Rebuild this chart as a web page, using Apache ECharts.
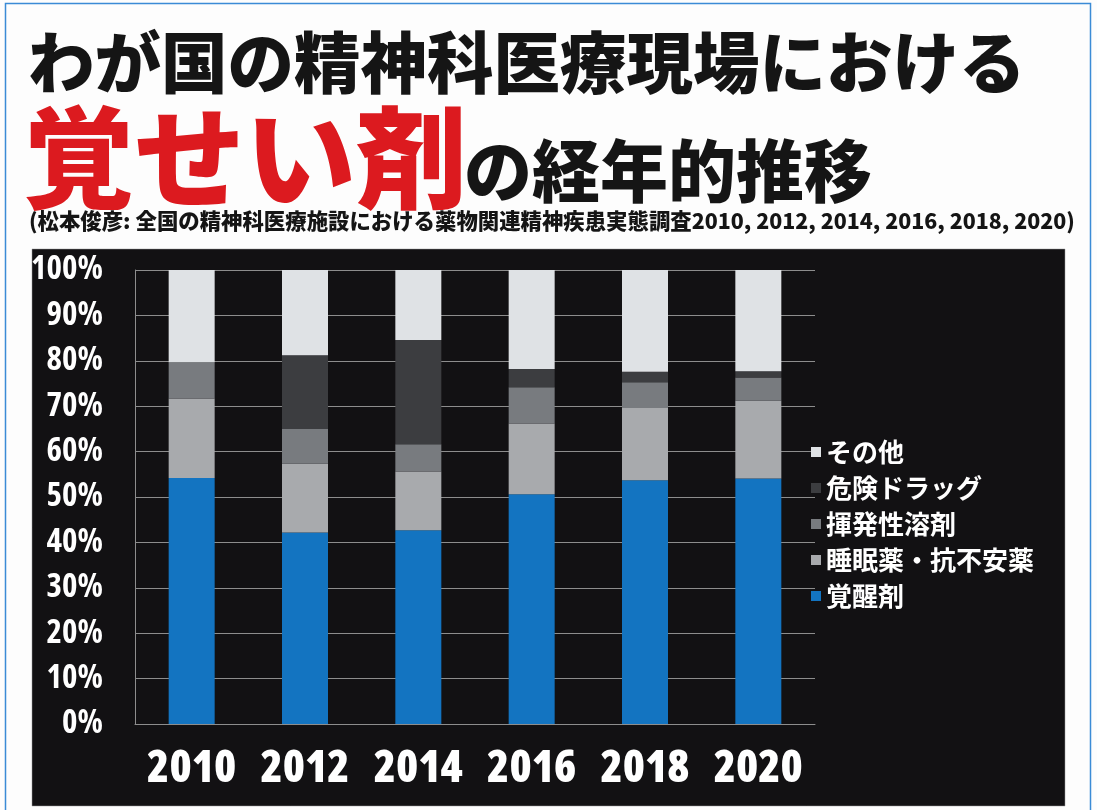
<!DOCTYPE html>
<html lang="ja">
<head>
<meta charset="utf-8">
<title>覚せい剤の経年的推移</title>
<script src="https://cdn.jsdelivr.net/npm/echarts@6/dist/echarts.min.js"></script>
<style>
  html, body { margin: 0; padding: 0; background: #fdfdfd; }
  #chart { width: 1097px; height: 810px; }
</style>
</head>
<body>
<div id="chart"></div>
<script>
// Survey years (x categories)
const years = ['2010', '2012', '2014', '2016', '2018', '2020'];

// Share of each drug category (%), stacked bottom to top
const stimulants     = [54.2, 42.2, 42.7, 50.6, 53.7, 54.1]; // 覚醒剤
const sedatives      = [17.5, 15.1, 12.9, 15.6, 15.9, 17.1]; // 睡眠薬・抗不安薬
const solvents       = [8.0, 7.7, 6.0, 8.0, 5.7, 5.1];       // 揮発性溶剤
const dangerousDrugs = [0, 16.2, 23.0, 4.0, 2.3, 1.4];        // 危険ドラッグ
const others         = [20.3, 18.8, 15.4, 21.8, 22.4, 22.3];  // その他

const seriesNames = ['覚醒剤', '睡眠薬・抗不安薬', '揮発性溶剤', '危険ドラッグ', 'その他'];
const seriesData = [stimulants, sedatives, solvents, dangerousDrugs, others];
const seriesColors = ['#1374c1', '#a8aaad', '#787b7f', '#3c3d40', '#dfe2e5'];

// Legend lists the top segment first
const legendOrder = ['その他', '危険ドラッグ', '揮発性溶剤', '睡眠薬・抗不安薬', '覚醒剤'];

const cjk = '"Noto Sans CJK JP", "Noto Sans", sans-serif';
// Open Sans with its condensed width for the numeric axis labels
const numFont = '"Open Sans", sans-serif';

const chart = echarts.init(document.getElementById('chart'), null, { renderer: 'canvas' });

chart.setOption({
  backgroundColor: '#fdfdfd',
  animation: false,
  graphic: [
    // page frame
    {
      type: 'rect', z: -10,
      shape: { x: 5.5, y: 3.5, width: 1085, height: 830 },
      style: { fill: '#fdfdfd', stroke: '#3b8bd6', lineWidth: 1.5 }
    },
    // dark chart panel
    {
      type: 'rect', z: -9,
      shape: { x: 32, y: 249, width: 1033, height: 557 },
      style: { fill: '#121113', stroke: '#9a9a9a', lineWidth: 0.5 }
    }
  ],
  title: [
    {
      text: 'わが国の精神科医療現場における',
      left: 23, top: 24,
      textStyle: { fontFamily: cjk, fontWeight: 900, fontSize: 66.5, color: '#151515' }
    },
    {
      text: '覚せい剤',
      left: 18, top: 97,
      textStyle: { fontFamily: cjk, fontWeight: 900, fontSize: 111, color: '#dc1a1f' }
    },
    {
      text: 'の経年的推移',
      left: 459, top: 132,
      textStyle: { fontFamily: cjk, fontWeight: 900, fontSize: 68, color: '#151515' }
    },
    {
      text: '(松本俊彦: 全国の精神科医療施設における薬物関連精神疾患実態調査2010, 2012, 2014, 2016, 2018, 2020)',
      left: 24, top: 205,
      textStyle: { fontFamily: cjk, fontWeight: 900, fontSize: 21.4, color: '#151515' }
    }
  ],
  legend: {
    orient: 'vertical',
    left: 806, top: 434,
    data: legendOrder,
    icon: 'rect',
    itemWidth: 10, itemHeight: 10,
    itemGap: 10,
    textStyle: { fontFamily: cjk, fontWeight: 'bold', fontSize: 26, lineHeight: 26, color: '#ffffff' }
  },
  grid: { left: 135, right: 282, top: 270, bottom: 86 },
  xAxis: {
    type: 'category',
    data: years,
    axisLine: { show: true, lineStyle: { color: '#8d8d8d', width: 1 } },
    axisTick: { show: false },
    axisLabel: {
      interval: 0,
      color: '#ffffff', fontFamily: numFont, fontStyle: 'condensed', fontWeight: 800, fontSize: 45, margin: 23
    }
  },
  yAxis: {
    type: 'value',
    min: 0, max: 100, interval: 10,
    axisLine: { show: true, lineStyle: { color: '#8d8d8d', width: 1 } },
    axisTick: { show: false },
    splitLine: { show: true, lineStyle: { color: '#8d8d8d', width: 1 } },
    axisLabel: {
      formatter: '{value}%',
      color: '#ffffff', fontFamily: numFont, fontStyle: 'condensed', fontWeight: 700, fontSize: 33, margin: 32
    }
  },
  series: seriesNames.map((name, i) => ({
    name: name,
    type: 'bar',
    stack: 'total',
    barWidth: 46,
    data: seriesData[i],
    itemStyle: { color: seriesColors[i] }
  }))
});
</script>
</body>
</html>
